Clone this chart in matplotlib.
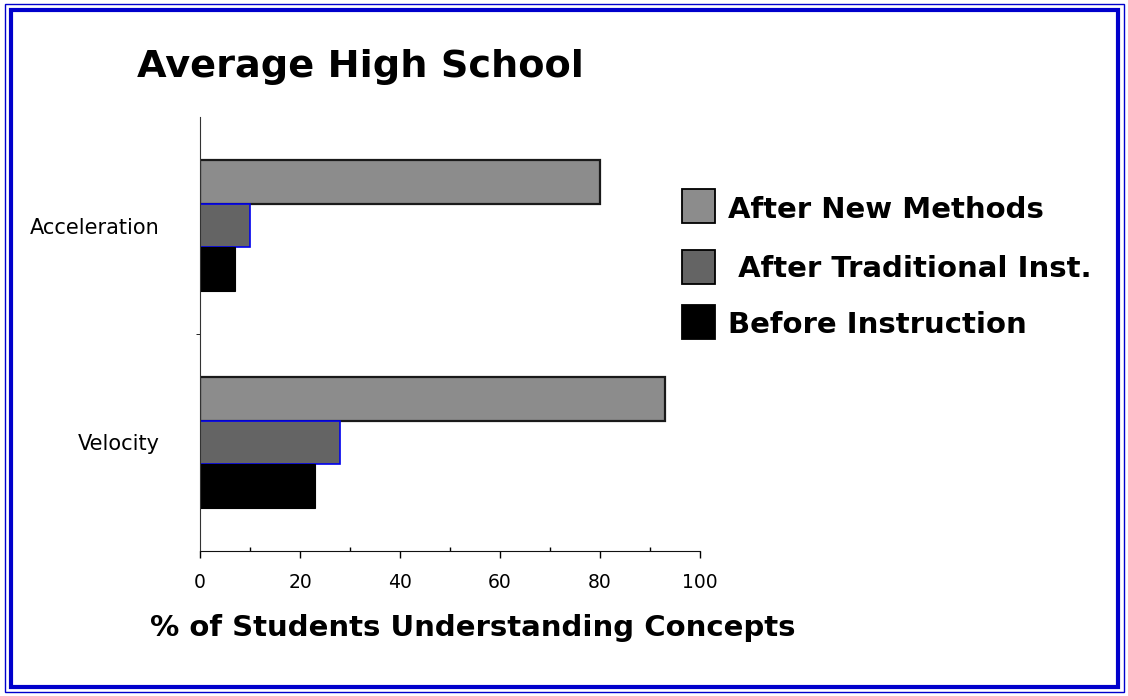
import matplotlib
matplotlib.use("Agg")
import matplotlib.pyplot as plt
from matplotlib.patches import Rectangle
import numpy as np

categories = ["Velocity", "Acceleration"]
series_names = ["After New Methods", " After Traditional Inst.", "Before Instruction"]
new_methods = [93, 80]
traditional = [28, 10]
before = [23, 7]
x_ticks = [0, 20, 40, 60, 80, 100]

fill_colors = ["#8c8c8c", "#646464", "#000000"]
edge_colors = ["#1a1a1a", "#0000ee", "#000000"]

W, H = 1128, 696
fig = plt.figure(figsize=(W / 100, H / 100), dpi=100)
fig.patch.set_facecolor("white")

# double blue frame
fig.add_artist(Rectangle((5 / W, 4 / H), 1119 / W, 688 / H, transform=fig.transFigure,
                         fill=False, edgecolor="#0000cc", linewidth=1.0))
fig.add_artist(Rectangle((11 / W, 9 / H), 1107 / W, 677 / H, transform=fig.transFigure,
                         fill=False, edgecolor="#0000cc", linewidth=3.0))

ax = fig.add_axes([200 / W, (H - 551) / H, 500 / W, 434 / H])
y = np.arange(len(categories))
h = 0.2
series = [new_methods, traditional, before]
offsets = [h, 0, -h]
lws = [1.6, 1.2, 0.8]
for vals, off, fc, ec, lw in zip(series, offsets, fill_colors, edge_colors, lws):
    ax.barh(y + off, vals, height=h, color=fc, edgecolor=ec, linewidth=lw)

ax.set_xlim(0, 100)
ax.set_ylim(-0.5, 1.5)
ax.set_xticks(x_ticks)
ax.set_xticklabels([str(t) for t in x_ticks], fontsize=13.5, family="DejaVu Sans")
ax.set_xticks(np.arange(10, 100, 20), minor=True)
ax.tick_params(axis="x", which="major", length=5, width=1, direction="out", pad=11)
ax.tick_params(axis="x", which="minor", length=3, width=1, direction="in")
ax.set_yticks(y)
ax.set_yticklabels(categories, fontsize=15, family="DejaVu Sans")
ax.tick_params(axis="y", which="major", length=0, pad=29)
ax.set_yticks([0.5], minor=True)
ax.tick_params(axis="y", which="minor", length=3, direction="out")
for s in ["top", "right"]:
    ax.spines[s].set_visible(False)
ax.spines["left"].set_color("#333333")
ax.spines["bottom"].set_color("#111111")

fig.text(137 / W, 1 - 77 / H, "Average High School", fontsize=27.5, fontweight="bold",
         family="DejaVu Sans", va="baseline", ha="left")
fig.text(150 / W, 1 - 636 / H, "% of Students Understanding Concepts", fontsize=21,
         fontweight="bold", family="DejaVu Sans", va="baseline", ha="left")

# legend (manual layout)
leg_y = [206, 267, 322]  # row centres in pixels from top
text_y = [218, 277, 333]
text_x = [728, 728, 728]
for name, fc, yc, ty, tx in zip(series_names, fill_colors, leg_y, text_y, text_x):
    fig.add_artist(Rectangle((682 / W, 1 - (yc + 17) / H), 33 / W, 34 / H,
                             transform=fig.transFigure, facecolor=fc,
                             edgecolor="black", linewidth=1.3))
    fig.text(tx / W, 1 - ty / H, name, fontsize=21, fontweight="bold",
             family="DejaVu Sans", va="baseline", ha="left")

fig.savefig("out.png", dpi=100, facecolor="white")
